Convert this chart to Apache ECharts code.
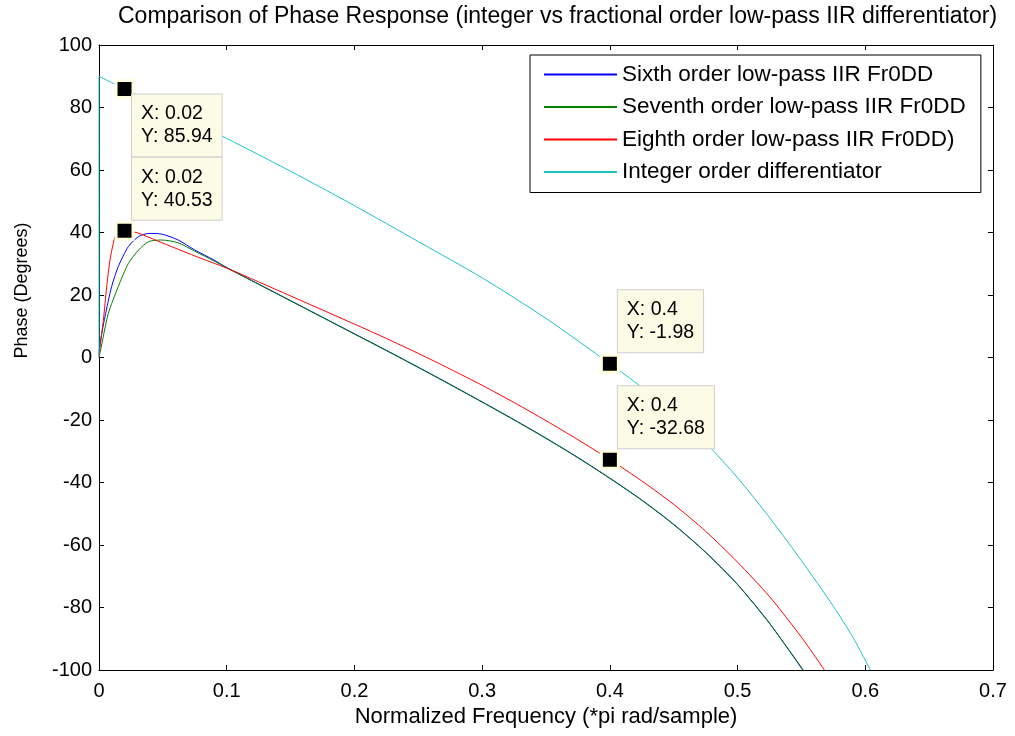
<!DOCTYPE html>
<html>
<head>
<meta charset="utf-8">
<script src="https://cdn.jsdelivr.net/npm/echarts@6/dist/echarts.min.js"></script>
<style>
  html, body { margin: 0; padding: 0; background: #fff; }
  #chart { width: 1015px; height: 736px; }
</style>
</head>
<body>
<div id="chart"></div>
<script>
// Phase responses (degrees) against normalized frequency (*pi rad/sample)
const seriesNames = [
  'Sixth order low-pass IIR Fr0DD',
  'Seventh order low-pass IIR Fr0DD',
  'Eighth order low-pass IIR Fr0DD)',
  'Integer order differentiator'
];

const freqSixth  = [0, 0.0008, 0.0047, 0.0099, 0.0151, 0.023, 0.031, 0.039, 0.049, 0.062, 0.075, 0.09, 0.1, 0.125, 0.15, 0.175, 0.2, 0.225, 0.25, 0.275, 0.3, 0.325, 0.35, 0.375, 0.4, 0.425, 0.45, 0.475, 0.5, 0.525, 0.551];
const phaseSixth = [1, 4.5, 13.1, 22.7, 29.1, 35.5, 38.7, 39.7, 39.5, 37.6, 34.4, 31.2, 28.8, 23.5, 18.2, 12.9, 7.6, 2.3, -3.1, -8.6, -14.2, -19.9, -25.8, -32.0, -38.6, -45.6, -53.4, -62.3, -72.6, -85.0, -100];

const freqSeventh  = [0, 0.0008, 0.0073, 0.0151, 0.023, 0.031, 0.039, 0.049, 0.062, 0.075, 0.09, 0.1, 0.125, 0.15, 0.175, 0.2, 0.225, 0.25, 0.275, 0.3, 0.325, 0.35, 0.375, 0.4, 0.425, 0.45, 0.475, 0.5, 0.525, 0.5515];
const phaseSeventh = [0.5, 1.5, 14.1, 22.7, 30.1, 34.4, 37.1, 37.6, 36.7, 34.0, 30.9, 28.7, 23.4, 18.1, 12.8, 7.5, 2.2, -3.2, -8.7, -14.3, -20.0, -25.9, -32.1, -38.7, -45.7, -53.5, -62.4, -72.7, -85.1, -100];

const freqEighth  = [0, 0.001, 0.0034, 0.006, 0.0086, 0.0112, 0.0138, 0.02, 0.03, 0.05, 0.075, 0.1, 0.125, 0.15, 0.175, 0.2, 0.225, 0.25, 0.275, 0.3, 0.325, 0.35, 0.375, 0.4, 0.425, 0.45, 0.475, 0.5, 0.525, 0.55, 0.568];
const phaseEighth = [0, 4, 11.8, 22.5, 31.2, 36.5, 39.7, 40.53, 39.9, 36.6, 32.5, 28.6, 24.2, 19.7, 15.2, 10.7, 6.1, 1.3, -3.7, -8.9, -14.4, -20.2, -26.3, -32.68, -39.5, -47.0, -55.6, -65.5, -76.5, -89.5, -100];

const freqInteger  = [0, 0, 0.02, 0.05, 0.1, 0.15, 0.2, 0.25, 0.3, 0.35, 0.4, 0.425, 0.45, 0.475, 0.5, 0.525, 0.55, 0.575, 0.59, 0.604];
const phaseInteger = [0, 90, 85.94, 80.0, 70.1, 59.6, 48.6, 37.1, 25.5, 12.5, -1.98, -9.5, -17.6, -27.3, -38.5, -51.2, -65.0, -79.6, -89.3, -100];

// Data tips
const tipFreq  = [0.02, 0.02, 0.4, 0.4];
const tipPhase = [85.94, 40.53, -1.98, -32.68];

// Axis ticks
const xTicks = [0, 0.1, 0.2, 0.3, 0.4, 0.5, 0.6, 0.7];
const yTicks = [-100, -80, -60, -40, -20, 0, 20, 40, 60, 80, 100];

const seriesColors = ['#0000ff', '#008000', '#ff0000', '#1cc3c8'];
const FONT = '"Liberation Sans", Arial, Helvetica, sans-serif';

function zip(xs, ys) { return xs.map((x, i) => [x, ys[i]]); }

const curveData = [
  zip(freqSixth, phaseSixth),
  zip(freqSeventh, phaseSeventh),
  zip(freqEighth, phaseEighth),
  zip(freqInteger, phaseInteger)
];

// Label box placement for each data tip (relative to the marker)
const tipLayouts = [
  { position: [17.5, 15.5], verticalAlign: 'top' },
  { position: [17.5, -1], verticalAlign: 'bottom' },
  { position: [18, -1.5], verticalAlign: 'bottom' },
  { position: [18, -1.5], verticalAlign: 'bottom' }
];

const chart = echarts.init(document.getElementById('chart'), null, { renderer: 'canvas' });

const axisCommon = {
  type: 'value',
  splitLine: { show: false },
  axisLine: { show: true, onZero: false, lineStyle: { color: '#000', width: 1 } },
  axisTick: { show: true, inside: true, length: 5, lineStyle: { color: '#000' } }
};

const xMin = xTicks[0], xMax = xTicks[xTicks.length - 1];
const yMin = yTicks[0], yMax = yTicks[yTicks.length - 1];

const lineSeries = seriesNames.map((name, i) => ({
  name: name,
  type: 'line',
  data: curveData[i],
  symbol: 'none',
  showSymbol: false,
  smooth: 0.25,
  lineStyle: { color: seriesColors[i], width: 1 },
  itemStyle: { color: seriesColors[i] },
  z: 2 + i,
  silent: true
}));

const tipSeries = {
  type: 'scatter',
  symbol: 'rect',
  symbolSize: 17,
  itemStyle: { color: '#000', borderColor: '#ffffe0', borderWidth: 3, opacity: 1 },
  z: 20,
  silent: true,
  data: tipFreq.map((f, i) => ({
    value: [f, tipPhase[i]],
    label: Object.assign({}, tipLayouts[i])
  })),
  label: {
    show: true,
    align: 'left',
    formatter: p => 'X: ' + String(p.value[0]) + '\nY: ' + p.value[1].toFixed(2),
    fontFamily: FONT,
    fontSize: 19.5,
    lineHeight: 23,
    color: '#000',
    opacity: 1,
    backgroundColor: '#fbfbe6',
    borderColor: '#cfcfcf',
    borderWidth: 1,
    padding: [8, 9, 8, 9]
  }
};

chart.setOption({
  animation: false,
  backgroundColor: '#fff',
  title: {
    text: 'Comparison of Phase Response (integer vs fractional order low-pass IIR differentiator)',
    left: 118,
    top: 5,
    padding: 0,
    textStyle: { fontFamily: FONT, fontSize: 23, fontWeight: 'normal', color: '#000' }
  },
  legend: {
    show: true,
    orient: 'vertical',
    left: 530,
    top: 55,
    data: seriesNames.slice(),
    backgroundColor: '#fff',
    borderColor: '#000',
    borderWidth: 1,
    padding: [8, 15, 9, 14],
    icon: 'rect',
    itemWidth: 73,
    itemHeight: 2,
    itemGap: 9.5,
    itemStyle: { borderWidth: 0 },
    textStyle: { fontFamily: FONT, fontSize: 22.5, color: '#000' },
    selectedMode: false,
    z: 30
  },
  grid: { left: 99, right: 22, top: 45, bottom: 66, containLabel: false },
  xAxis: [
    Object.assign({}, axisCommon, {
      position: 'bottom',
      min: xMin, max: xMax, interval: 0.1,
      name: 'Normalized Frequency (*pi rad/sample)',
      nameLocation: 'middle',
      nameGap: 34,
      nameTextStyle: { fontFamily: FONT, fontSize: 22, color: '#000' },
      axisLabel: { show: true, margin: 11, fontFamily: FONT, fontSize: 20, color: '#000',
        formatter: v => String(Math.round(v * 10) / 10) }
    }),
    Object.assign({}, axisCommon, {
      position: 'top',
      min: xMin, max: xMax, interval: 0.1,
      axisLabel: { show: false }
    })
  ],
  yAxis: [
    Object.assign({}, axisCommon, {
      position: 'left',
      min: yMin, max: yMax, interval: 20,
      name: 'Phase (Degrees)',
      nameLocation: 'middle',
      nameGap: 68,
      nameTextStyle: { fontFamily: FONT, fontSize: 18, color: '#000', padding: [0, 0, 0, 134] },
      axisLabel: { show: true, margin: 7, fontFamily: FONT, fontSize: 20, color: '#000' }
    }),
    Object.assign({}, axisCommon, {
      position: 'right',
      min: yMin, max: yMax, interval: 20,
      axisLabel: { show: false }
    })
  ],
  series: lineSeries.concat([tipSeries])
});
</script>
</body>
</html>
